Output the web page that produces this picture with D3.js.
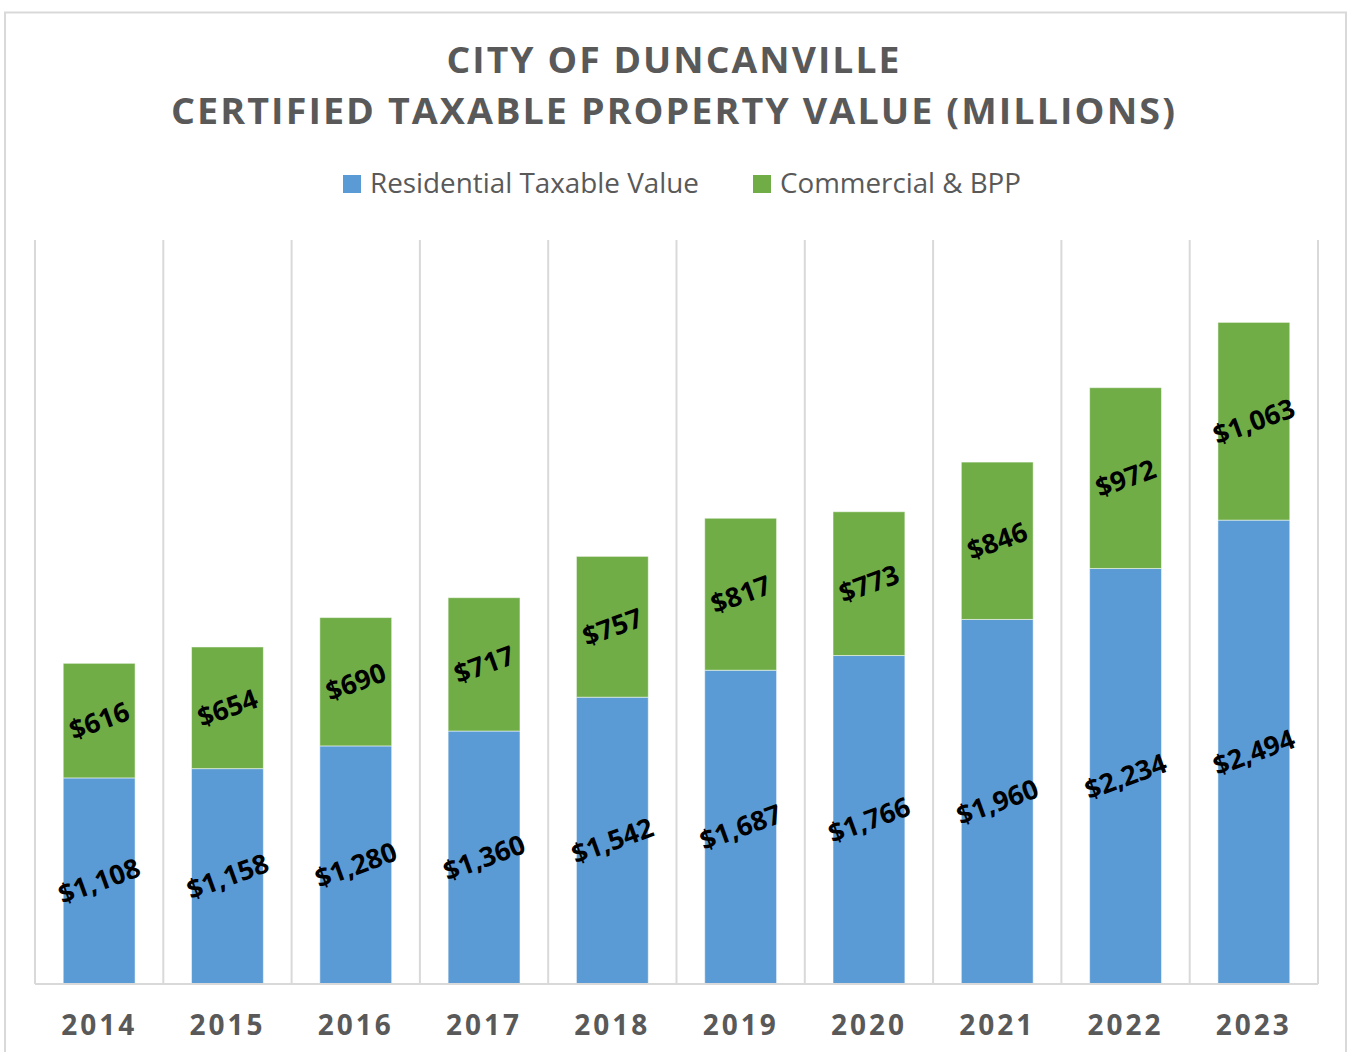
<!DOCTYPE html>
<html>
<head>
<meta charset="utf-8">
<script src="https://cdnjs.cloudflare.com/ajax/libs/d3/7.8.5/d3.min.js"></script>
<style>
  body { margin: 0; background: #fff; }
  svg { display: block; font-family: "Open Sans", "Noto Sans", sans-serif; }
</style>
</head>
<body>
<div id="chart"></div>
<script>
// chart data
var years = [ "2014", "2015", "2016", "2017", "2018", "2019", "2020", "2021", "2022", "2023" ];
var residential = [ 1108, 1158, 1280, 1360, 1542, 1687, 1766, 1960, 2234, 2494 ];
var commercial = [ 616, 654, 690, 717, 757, 817, 773, 846, 972, 1063 ];
var seriesNames = [ "Residential Taxable Value", "Commercial & BPP" ];
var titleLines = [ "CITY OF DUNCANVILLE", "CERTIFIED TAXABLE PROPERTY VALUE (MILLIONS)" ];

var width = 1348;
var height = 1052;
var plot = { left: 35, right: 1318, top: 240, bottom: 984 };
var colors = [ "#5b9bd5", "#70ad47" ];

var svg = d3.select( "#chart" ).append( "svg" )
    .attr( "width", width )
    .attr( "height", height );

// outer chart frame
svg.append( "rect" )
    .attr( "x", 5 ).attr( "y", 12.5 )
    .attr( "width", 1341 ).attr( "height", 1060 )
    .attr( "fill", "none" )
    .attr( "stroke", "#d9d9d9" )
    .attr( "stroke-width", 2 );

// title
svg.selectAll( "text.title" )
    .data( titleLines )
    .enter().append( "text" )
    .attr( "class", "title" )
    .attr( "x", 674 )
    .attr( "y", function( d, i ) { return 73 + i * 51; })
    .attr( "text-anchor", "middle" )
    .attr( "font-size", 36 )
    .attr( "font-weight", "bold" )
    .attr( "fill", "#595959" )
    .attr( "letter-spacing", 2 )
    .attr( "textLength", function( d, i ) { return i === 0 ? 455 : 1006; })
    .attr( "lengthAdjust", "spacingAndGlyphs" )
    .text( function( d ) { return d; });

// legend
var legendX = [ 343, 753 ];
var legendW = [ 329, 241 ];
var legend = svg.selectAll( "g.legend" )
    .data( seriesNames )
    .enter().append( "g" )
    .attr( "class", "legend" )
    .attr( "transform", function( d, i ) { return "translate(" + legendX[ i ] + ",0)"; });

legend.append( "rect" )
    .attr( "x", 0 ).attr( "y", 175 )
    .attr( "width", 18 ).attr( "height", 18 )
    .attr( "fill", function( d, i ) { return colors[ i ]; });

legend.append( "text" )
    .attr( "x", 27 ).attr( "y", 193 )
    .attr( "font-size", 27 )
    .attr( "fill", "#595959" )
    .attr( "textLength", function( d, i ) { return legendW[ i ]; })
    .attr( "lengthAdjust", "spacingAndGlyphs" )
    .text( function( d ) { return d; });

// scales
var x = d3.scaleBand()
    .domain( years )
    .range( [ plot.left, plot.right ] )
    .paddingInner( 0 )
    .paddingOuter( 0 );

var y = d3.scaleLinear()
    .domain( [ 0, 4000 ] )
    .range( [ plot.bottom, plot.top ] );

var barW = x.bandwidth() * 0.56;

// vertical gridlines at category boundaries
var gridX = years.map( function( d ) { return x( d ); }).concat( [ plot.right ] );
svg.append( "g" ).selectAll( "line" )
    .data( gridX )
    .enter().append( "line" )
    .attr( "x1", function( d ) { return d; })
    .attr( "x2", function( d ) { return d; })
    .attr( "y1", plot.top )
    .attr( "y2", plot.bottom )
    .attr( "stroke", "#d9d9d9" )
    .attr( "stroke-width", 2 );

// stacked bars
var rows = years.map( function( d, i ) {
    return { year: d, residential: residential[ i ], commercial: commercial[ i ] };
});
var stack = d3.stack().keys( [ "residential", "commercial" ] );
var layers = stack( rows );

var layerG = svg.append( "g" ).selectAll( "g" )
    .data( layers )
    .enter().append( "g" )
    .attr( "fill", function( d, i ) { return colors[ i ]; });

layerG.selectAll( "rect" )
    .data( function( d ) { return d; })
    .enter().append( "rect" )
    .attr( "x", function( d ) { return x( d.data.year ) + ( x.bandwidth() - barW ) / 2; })
    .attr( "y", function( d ) { return y( d[ 1 ] ); })
    .attr( "width", barW )
    .attr( "height", function( d ) { return y( d[ 0 ] ) - y( d[ 1 ] ); })
    .attr( "stroke", "#ffffff" )
    .attr( "stroke-opacity", 0.5 )
    .attr( "stroke-width", 1 );

// data labels, rotated
var fmt = d3.format( ",.0f" );
layerG.selectAll( "text" )
    .data( function( d ) { return d; })
    .enter().append( "text" )
    .attr( "transform", function( d ) {
        var cx = x( d.data.year ) + x.bandwidth() / 2;
        var cy = ( y( d[ 0 ] ) + y( d[ 1 ] ) ) / 2;
        return "translate(" + cx + "," + cy + ") rotate(-20)";
    })
    .attr( "text-anchor", "middle" )
    .attr( "dy", "0.36em" )
    .attr( "font-size", 27 )
    .attr( "font-weight", "bold" )
    .attr( "fill", "#000000" )
    .text( function( d ) { return "$" + fmt( d[ 1 ] - d[ 0 ] ); });

// x axis
svg.append( "line" )
    .attr( "x1", plot.left ).attr( "x2", plot.right )
    .attr( "y1", plot.bottom ).attr( "y2", plot.bottom )
    .attr( "stroke", "#d9d9d9" )
    .attr( "stroke-width", 2 );

svg.append( "g" ).selectAll( "text" )
    .data( years )
    .enter().append( "text" )
    .attr( "x", function( d ) { return x( d ) + x.bandwidth() / 2; })
    .attr( "y", 1035 )
    .attr( "text-anchor", "middle" )
    .attr( "font-size", 28 )
    .attr( "font-weight", "bold" )
    .attr( "letter-spacing", 3 )
    .attr( "fill", "#595959" )
    .text( function( d ) { return d; });
</script>
</body>
</html>
